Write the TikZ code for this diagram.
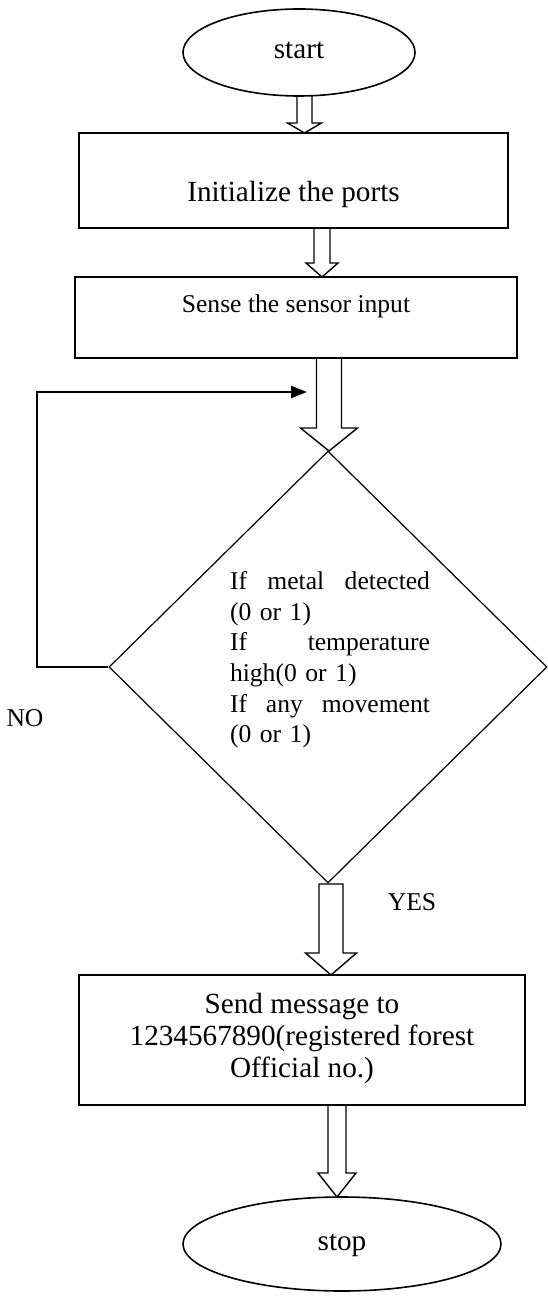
\documentclass[tikz,border=0pt]{standalone}
\usepackage{fontspec}
\setmainfont{Liberation Serif}
\usetikzlibrary{shapes.geometric,arrows.meta}
\newcommand\blockarr[6]{\draw[blk] (#1-#5,#2) -- (#1-#5,#3) -- (#1-#6,#3) -- (#1,#4) -- (#1+#6,#3) -- (#1+#5,#3) -- (#1+#5,#2);}
\begin{document}
\begin{tikzpicture}[x=0.5pt,y=-0.5pt,
  term/.style={ellipse, draw, line width=0.8pt, inner sep=0pt},
  procbox/.style={rectangle, draw, line width=1pt, inner sep=0pt},
  decision/.style={diamond, draw, line width=0.6pt, inner sep=0pt},
  blk/.style={draw, line width=0.7pt, line join=miter},
  loopline/.style={draw, line width=1pt, -{Triangle[length=8pt,width=6pt]}},
  bigtxt/.style={font=\fontsize{14.6}{16}\selectfont, inner sep=0pt},
  smalltxt/.style={font=\fontsize{12.8}{15.3}\selectfont, inner sep=0pt}]
\useasboundingbox (0,0) rectangle (547,1315);

% shapes
\node[term, minimum width=116pt, minimum height=43.5pt] (start) at (299,52.5) {};
\node[procbox, minimum width=214.5pt, minimum height=47.5pt] (box1) at (293.5,180.5) {};
\node[procbox, minimum width=221pt, minimum height=40.5pt] (box2) at (296,317.5) {};
\node[decision, minimum width=219pt, minimum height=216pt] (dia) at (328,667) {};
\node[procbox, minimum width=223pt, minimum height=65pt] (box3) at (302,1040) {};
\node[term, minimum width=159pt, minimum height=47pt] (stop) at (342,1244) {};

% texts
\node[bigtxt, anchor=base] (tstart) at (299,59) {start};
\node[bigtxt, anchor=base] (tbox1) at (293.5,202) {Initialize the ports};
\node[smalltxt, anchor=base] (tbox2) at (296,313) {Sense the sensor input};
\node[smalltxt, text width=100pt, align=left] (tdia) at (330,660) {%
\makebox[100pt][l]{If\hfill metal\hfill detected}\\
(0 or 1)\\
\makebox[100pt][l]{If\hfill temperature}\\
high(0 or 1)\\
\makebox[100pt][l]{If\hfill any\hfill movement}\\
(0 or 1)};
\node[bigtxt, align=center] (tbox3) at (302,1038) {Send message to\\1234567890(registered forest\\Official no.)};
\node[bigtxt, anchor=base] (tstop) at (342,1250) {stop};
\node[smalltxt, anchor=base] (tno) at (25,726) {NO};
\node[smalltxt, anchor=base] (tyes) at (412,910) {YES};

% block arrows
\blockarr{304.5}{95.5}{123}{133}{7.5}{17}
\blockarr{322}{228}{263}{277}{8}{16}
\blockarr{329}{358}{428}{451}{12.5}{28.5}
\draw[blk] (331-12,884) -- (331-12,953) -- (331-25.5,953) -- (331,975) -- (331+25.5,953) -- (331+12,953) -- (331+12,884) -- cycle;
\blockarr{337}{1105}{1173}{1197}{9}{19}

% loop back
\coordinate (looptip) at (307,392);
\draw[loopline] (dia.west) -- (37,667) -- (37,392) -- (looptip);
\end{tikzpicture}
\end{document}
